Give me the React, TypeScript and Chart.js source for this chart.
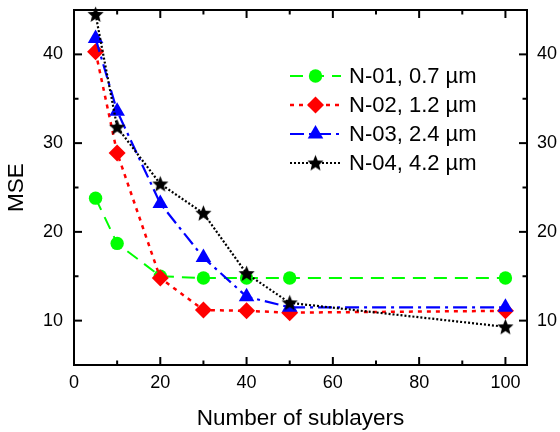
import React, { useEffect, useRef } from 'react';
import { Chart, registerables } from 'chart.js';
import { drawPoint } from 'chart.js/helpers';

Chart.register(...registerables);

// ---- data ----
const layers = [5, 10, 20, 30, 40, 50, 100];
const n01 = [23.8, 18.7, 15.0, 14.8, 14.8, 14.8, 14.8];
const n02 = [40.3, 28.9, 14.8, 11.2, 11.1, 10.9, 11.1];
const n03 = [41.8, 33.6, 23.2, 17.1, 12.7, 11.5, 11.5];
const n04 = [44.5, 31.8, 25.4, 22.1, 15.3, 12.0, 9.3];
const seriesLabels = ['N-01, 0.7 \u00B5m', 'N-02, 1.2 \u00B5m', 'N-03, 2.4 \u00B5m', 'N-04, 4.2 \u00B5m'];
const xTicks = [0, 20, 40, 60, 80, 100];
const xMinor = [10, 30, 50, 70, 90];
const yTicks = [10, 20, 30, 40];
const yMinor = [15, 25, 35];
const xTitle = 'Number of sublayers';
const yTitle = 'MSE';

const FONT = "Arial, 'Liberation Sans', sans-serif";

function makeStar(r: number, color: string): HTMLCanvasElement {
  const size = Math.ceil(r * 2 + 2);
  const c = document.createElement('canvas');
  c.width = size;
  c.height = size;
  const g = c.getContext('2d')!;
  g.fillStyle = color;
  g.beginPath();
  for (let i = 0; i < 10; i++) {
    const rad = i % 2 === 0 ? r : r * 0.45;
    const ang = -Math.PI / 2 + (i * Math.PI) / 5;
    const px = size / 2 + rad * Math.cos(ang);
    const py = size / 2 + rad * Math.sin(ang) + 0.5;
    if (i === 0) g.moveTo(px, py);
    else g.lineTo(px, py);
  }
  g.closePath();
  g.fill();
  return c;
}

export default function App() {
  const ref = useRef<HTMLCanvasElement>(null);

  useEffect(() => {
    const star = makeStar(8.5, '#000000');
    const series = [
      { label: seriesLabels[0], values: n01, color: '#00ff00', dash: [13, 8], width: 2, style: 'circle' as any, radius: 6.7, order: 3 },
      { label: seriesLabels[1], values: n02, color: '#ff0000', dash: [4, 5], width: 2.5, style: 'rectRot' as any, radius: 8.5, order: 2 },
      { label: seriesLabels[2], values: n03, color: '#0000ff', dash: [14, 5, 3, 5], width: 2.2, style: 'triangle' as any, radius: 9, order: 1 },
      { label: seriesLabels[3], values: n04, color: '#000000', dash: [2, 2], width: 2.2, style: star as any, radius: 8.5, order: 0 },
    ];

    const framePlugin = {
      id: 'frameTicks',
      beforeDatasetsDraw(chart: any) {
        const { ctx, chartArea: a, scales } = chart;
        const xs = scales.x;
        const ys = scales.y;
        ctx.save();
        ctx.strokeStyle = '#000';
        ctx.lineWidth = 2;
        ctx.strokeRect(a.left, a.top, a.right - a.left, a.bottom - a.top);
        const seg = (x1: number, y1: number, x2: number, y2: number) => {
          ctx.beginPath();
          ctx.moveTo(x1, y1);
          ctx.lineTo(x2, y2);
          ctx.stroke();
        };
        const xT = (v: number, len: number) => {
          const px = xs.getPixelForValue(v);
          seg(px, a.bottom, px, a.bottom - len);
          seg(px, a.top, px, a.top + len);
        };
        const yT = (v: number, len: number) => {
          const py = ys.getPixelForValue(v);
          seg(a.left, py, a.left + len, py);
          seg(a.right, py, a.right - len, py);
        };
        xTicks.forEach((v) => xT(v, 8));
        xMinor.forEach((v) => xT(v, 4.5));
        yTicks.forEach((v) => yT(v, 8));
        yMinor.forEach((v) => yT(v, 4.5));
        ctx.restore();
      },
    };

    const legendPlugin = {
      id: 'customLegend',
      afterDraw(chart: any) {
        const { ctx } = chart;
        const rowsY = [76, 105, 134, 163];
        const x0 = 290;
        const x1 = 341;
        const mx = 315.5;
        const tx = 349;
        ctx.save();
        series.forEach((s, i) => {
          const y = rowsY[i];
          ctx.strokeStyle = s.color;
          ctx.lineWidth = s.width;
          ctx.setLineDash(s.dash);
          ctx.beginPath();
          ctx.moveTo(x0, y);
          ctx.lineTo(x1, y);
          ctx.stroke();
          ctx.setLineDash([]);
          ctx.fillStyle = s.color;
          if (s.style instanceof HTMLCanvasElement) {
            ctx.drawImage(s.style, mx - s.style.width / 2, y - s.style.height / 2);
          } else {
            drawPoint(ctx, { pointStyle: s.style, radius: s.radius, rotation: 0, borderWidth: 0 } as any, mx, y);
          }
          ctx.fillStyle = '#000';
          ctx.font = `22px ${FONT}`;
          ctx.textAlign = 'left';
          ctx.textBaseline = 'middle';
          ctx.fillText(s.label, tx, y + 1);
        });
        ctx.restore();
      },
    };

    const tickFont = { family: FONT, size: 18 };
    const titleFont = { family: FONT, size: 22.5 };
    const noPadV = (s: any) => {
      s.paddingTop = 0;
      s.paddingBottom = 0;
    };
    const noPadH = (s: any) => {
      s.paddingLeft = 0;
      s.paddingRight = 0;
    };

    const chart = new Chart(ref.current!, {
      type: 'line',
      data: {
        datasets: series.map((s) => ({
          label: s.label,
          data: layers.map((x, i) => ({ x, y: s.values[i] })),
          borderColor: s.color,
          backgroundColor: s.color,
          borderWidth: s.width,
          borderDash: s.dash,
          pointStyle: s.style,
          pointRadius: s.radius,
          pointHoverRadius: s.radius,
          pointBorderWidth: 0,
          pointBackgroundColor: s.color,
          tension: 0,
          fill: false,
          clip: false as any,
          order: s.order,
        })),
      },
      options: {
        responsive: false,
        animation: false,
        devicePixelRatio: 1,
        layout: { padding: 0 },
        events: [],
        plugins: {
          legend: { display: false },
          tooltip: { enabled: false },
        },
        scales: {
          x: {
            type: 'linear',
            position: 'bottom',
            min: 0,
            max: 105,
            afterBuildTicks: (s: any) => {
              s.ticks = xTicks.map((v) => ({ value: v }));
            },
            afterFit: (s: any) => {
              s.height = 67;
              noPadH(s);
            },
            grid: { display: false, drawTicks: false },
            border: { display: false },
            ticks: { color: '#000', font: tickFont, padding: 7, maxRotation: 0, autoSkip: false },
            title: { display: true, text: xTitle, color: '#000', font: titleFont, padding: { top: 0, bottom: 0 } },
          },
          x2: {
            type: 'linear',
            position: 'top',
            min: 0,
            max: 105,
            afterFit: (s: any) => {
              s.height = 10;
              noPadH(s);
            },
            grid: { display: false, drawTicks: false },
            border: { display: false },
            ticks: { display: false },
          },
          y: {
            type: 'linear',
            position: 'left',
            min: 5,
            max: 45,
            afterBuildTicks: (s: any) => {
              s.ticks = yTicks.map((v) => ({ value: v }));
            },
            afterFit: (s: any) => {
              s.width = 74;
              noPadV(s);
            },
            grid: { display: false, drawTicks: false },
            border: { display: false },
            ticks: { color: '#000', font: tickFont, padding: 11 },
            title: { display: true, text: yTitle, color: '#000', font: titleFont, padding: { top: 3, bottom: 0 } },
          },
          y2: {
            type: 'linear',
            position: 'right',
            min: 5,
            max: 45,
            afterBuildTicks: (s: any) => {
              s.ticks = yTicks.map((v) => ({ value: v }));
            },
            afterFit: (s: any) => {
              s.width = 33;
              noPadV(s);
            },
            grid: { display: false, drawTicks: false },
            border: { display: false },
            ticks: { color: '#000', font: tickFont, padding: 10 },
          },
        },
      } as any,
      plugins: [framePlugin, legendPlugin],
    });
    return () => chart.destroy();
  }, []);

  return (
    <div style={{ position: 'fixed', left: 0, top: 0, width: 560, height: 432, background: '#fff' }}>
      <canvas ref={ref} width={560} height={432} style={{ display: 'block', width: 560, height: 432 }} />
    </div>
  );
}
